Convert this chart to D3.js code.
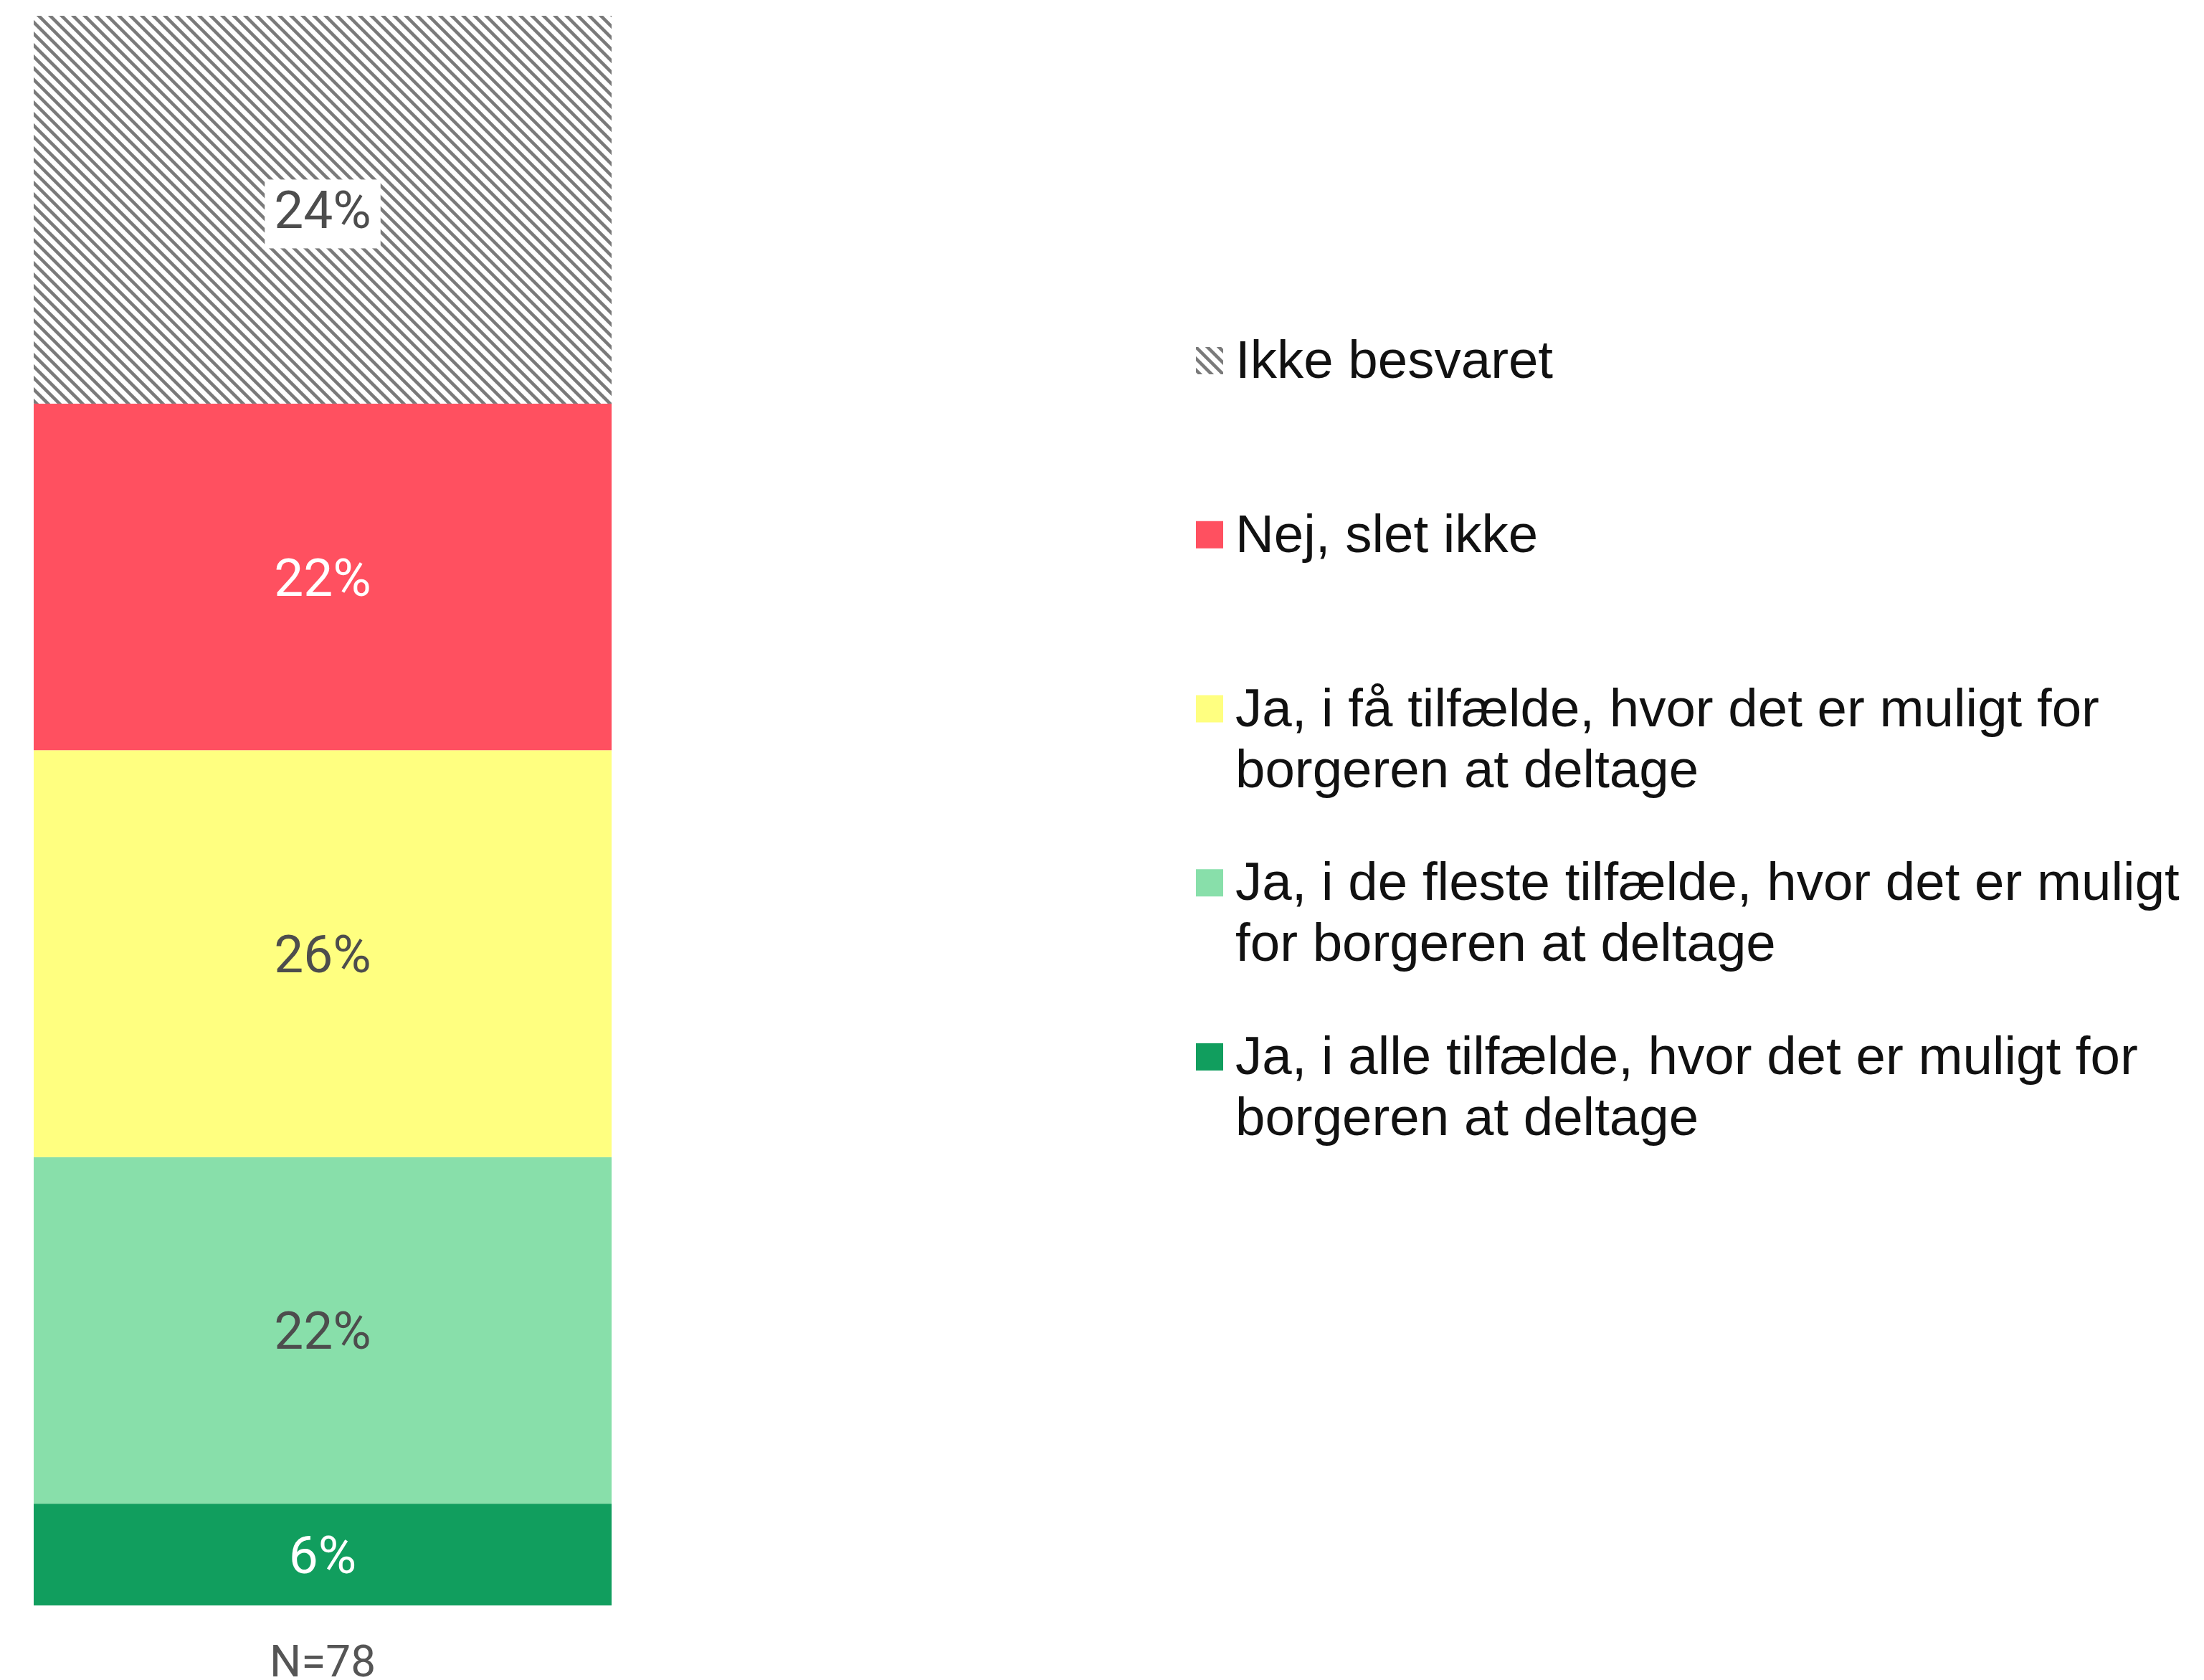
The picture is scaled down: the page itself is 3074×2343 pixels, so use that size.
<!DOCTYPE html>
<html>
<head>
<meta charset="utf-8">
<script src="https://cdn.jsdelivr.net/npm/d3@7"></script>
<style>
  body { margin: 0; background: #fff; }
  svg { display: block; }
</style>
</head>
<body>
<div id="chart"></div>
<script>
// answer categories, bottom of the stack first
const categories = [
  "Ja, i alle tilfælde, hvor det er muligt for borgeren at deltage",
  "Ja, i de fleste tilfælde, hvor det er muligt for borgeren at deltage",
  "Ja, i få tilfælde, hvor det er muligt for borgeren at deltage",
  "Nej, slet ikke",
  "Ikke besvaret"
];
const shares = [6.4, 21.8, 25.6, 21.8, 24.4];   // percent of respondents
const colors = ["#119e5e", "#88dfaa", "#ffff80", "#ff5060", "url(#hatch)"];
const labelColors = ["#ffffff", "#4d4d4d", "#4d4d4d", "#ffffff", "#4d4d4d"];
const groups = ["N=78"];

const width = 3074, height = 2343;
const margin = ({top: 22, bottom: 104, left: 47});

const svg = d3.select("#chart")
  .append("svg")
  .attr("width", width)
  .attr("height", height)
  .attr("viewBox", [0, 0, width, height]);

// diagonal hatch for "Ikke besvaret"
const pat = svg.append("defs").append("pattern")
  .attr("id", "hatch")
  .attr("patternUnits", "userSpaceOnUse")
  .attr("width", 16)
  .attr("height", 16);
pat.append("rect").attr("width", 16).attr("height", 16).attr("fill", "#fff");
pat.append("path")
  .attr("d", "M0,0L16,16M-4,12L4,20M12,-4L20,4")
  .attr("stroke", "#7a7a7a")
  .attr("stroke-width", 4.5);

const x = d3.scaleBand()
  .domain(groups)
  .range([margin.left, 853])
  .padding(0);

const y = d3.scaleLinear()
  .domain([0, 100])
  .range([height - margin.bottom, margin.top]);

// build stacked segments
let acc = 0;
const data = categories.map((c, i) => {
  const d = {cat: c, v: shares[i], y0: acc, y1: acc + shares[i], fill: colors[i], lc: labelColors[i]};
  acc += shares[i];
  return d;
});

const seg = svg.selectAll(".seg")
  .data(data)
  .join("g")
  .attr("class", "seg");

seg.append("rect")
  .attr("x", x(groups[0]))
  .attr("width", x.bandwidth())
  .attr("y", d => y(d.y1))
  .attr("height", d => y(d.y0) - y(d.y1))
  .attr("fill", d => d.fill);

const labelSize = 73;
seg.append("text")
  .text(d => Math.round(d.v) + "%")
  .attr("x", x(groups[0]) + x.bandwidth() / 2)
  .attr("y", d => (y(d.y0) + y(d.y1)) / 2 + labelSize * 0.355)
  .attr("text-anchor", "middle")
  .attr("font-family", "Roboto, sans-serif")
  .attr("font-size", labelSize)
  .attr("fill", d => d.lc);

// white box behind the label on the hatched segment
seg.filter(d => d.fill === "url(#hatch)").each(function() {
  const t = d3.select(this).select("text");
  const b = t.node().getBBox();
  d3.select(this).insert("rect", "text")
    .attr("x", b.x - 13)
    .attr("y", b.y)
    .attr("width", b.width + 26)
    .attr("height", b.height + 10)
    .attr("fill", "#fff");
});

// x axis label (N)
svg.append("g")
  .attr("transform", `translate(0, ${height - margin.bottom})`)
  .call(d3.axisBottom(x).tickSize(0).tickPadding(55))
  .call(g => g.select(".domain").remove())
  .call(g => g.selectAll("text")
    .attr("font-family", "Roboto, sans-serif")
    .attr("font-size", 62)
    .attr("fill", "#555"));

// legend, top item = top of stack
const legendOrder = categories.slice().reverse();
const ly = d3.scalePoint()
  .domain(legendOrder)
  .range([527, 1498]);

const fontSize = 74.5, lineH = 85, maxW = 1350;
const leg = svg.append("g")
  .selectAll("g")
  .data(legendOrder)
  .join("g");

leg.append("rect")
  .attr("x", 1668)
  .attr("y", d => ly(d) - 43)
  .attr("width", 38)
  .attr("height", 38)
  .attr("fill", d => colors[categories.indexOf(d)]);

leg.append("text")
  .attr("x", 1723)
  .attr("y", d => ly(d))
  .attr("font-family", "'Liberation Sans', Arial, sans-serif")
  .attr("font-size", fontSize)
  .attr("fill", "#111")
  .each(function(d) {
    const t = d3.select(this);
    const words = d.split(" ");
    let line = [];
    let ts = t.append("tspan").attr("x", 1723).attr("dy", 0);
    for (const w of words) {
      line.push(w);
      ts.text(line.join(" "));
      if (ts.node().getComputedTextLength() > maxW && line.length > 1) {
        line.pop();
        ts.text(line.join(" "));
        line = [w];
        ts = t.append("tspan").attr("x", 1723).attr("dy", lineH).text(w);
      }
    }
  });
</script>
</body>
</html>
